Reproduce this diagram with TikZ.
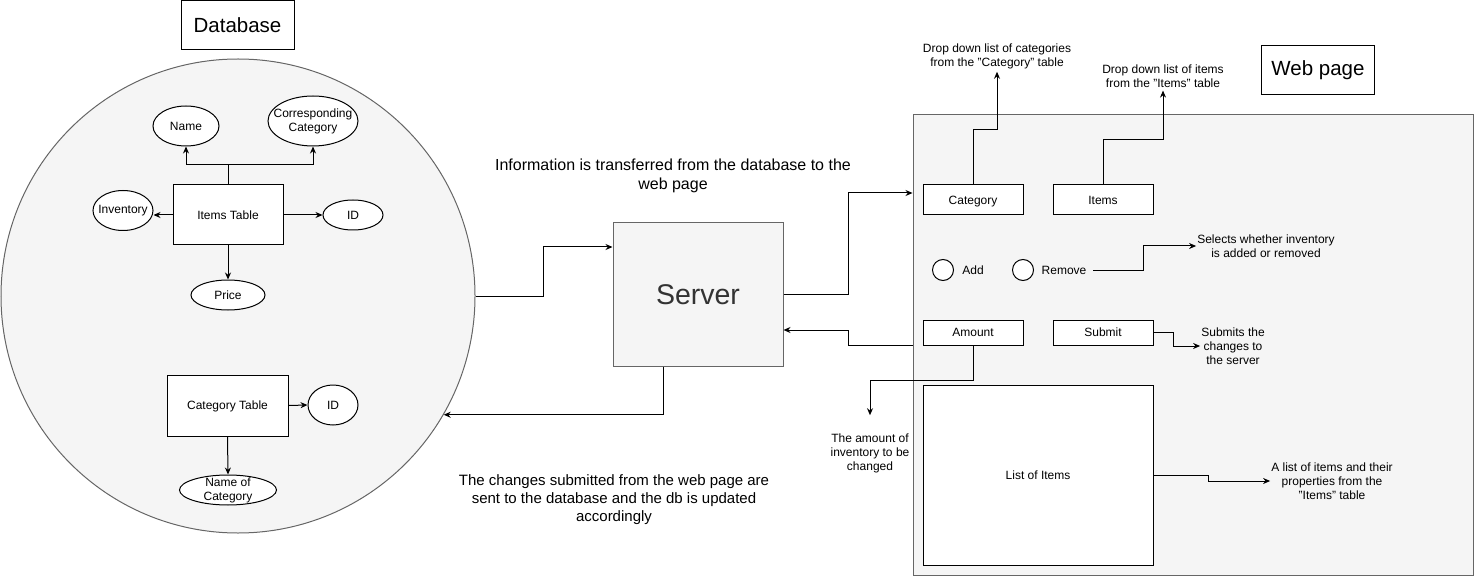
\documentclass[tikz,border=0pt]{standalone}
\usepackage{fontspec}
\setmainfont{Liberation Sans}
\usepackage{tikz}
\usetikzlibrary{arrows.meta}
\usetikzlibrary{shapes.geometric}
\usepackage{xcolor}
\definecolor{ColFill}{HTML}{F5F5F5}
\definecolor{ColLine}{HTML}{666666}
\definecolor{ColText}{HTML}{333333}
\tikzstyle{TextSmall}=[font=\fontsize{12}{14}\selectfont,align=center]
\tikzstyle{NodeGroup}=[draw=ColLine,fill=ColFill,line width=1pt,inner sep=0pt]
\tikzstyle{NodeTitle}=[rectangle,draw=black,line width=1pt,minimum width=113pt,minimum height=49pt,
font=\fontsize{20.5}{24}\selectfont]
\tikzstyle{NodeTable}=[rectangle,draw=black,fill=white,line width=1pt,inner sep=0pt,
text height=9pt,text depth=0.5pt,font=\fontsize{12}{14}\selectfont]
\tikzstyle{NodeAttr}=[ellipse,draw=black,fill=white,line width=1pt,inner sep=0pt]
\tikzstyle{NodeRadio}=[circle,draw=black,fill=white,line width=1pt,minimum size=21pt,inner sep=0pt]
\tikzstyle{NodeNote}=[TextSmall,inner sep=1pt]
\tikzstyle{EdgeFlow}=[line width=1pt,-{Stealth[length=7pt,width=6pt]}]

\begin{document}
\begin{tikzpicture}[x=1pt,y=-1pt]
        \useasboundingbox (0,0) rectangle (1474,577);
        % database side
        \node[NodeTitle](dbtitle)at(237.5,25.5){Database};
        \node[NodeGroup,circle,minimum size=474pt](db)at(238,296){};
        \node[NodeTable,minimum width=110pt,minimum height=60pt](items)at(228,215){Items Table};
        \node[NodeAttr,minimum width=66pt,minimum height=40pt,label={[TextSmall]center:Name}](name)at(186,126){};
        \node[NodeAttr,minimum width=90pt,minimum height=50pt,label={[TextSmall]center:Corresponding\\Category}](cc)at(313,121){};
        \node[NodeAttr,minimum width=60pt,minimum height=40pt,label={[TextSmall]center:Inventory}](inv)at(123,210.5){};
        \node[NodeAttr,minimum width=60pt,minimum height=30pt,label={[TextSmall]center:ID}](itemid)at(353,215){};
        \node[NodeAttr,minimum width=74pt,minimum height=30pt,label={[TextSmall]center:Price}](price)at(228,295){};
        \node[NodeTable,minimum width=121pt,minimum height=61pt](cattab)at(227.5,405.5){Category Table};
        \node[NodeAttr,minimum width=50pt,minimum height=40pt,label={[TextSmall]center:ID}](catid)at(333,405){};
        \node[NodeAttr,minimum width=97pt,minimum height=30pt,label={[TextSmall]center:Name of\\Category}](catname)at(228,490){};
        \draw[EdgeFlow](items.north)--++(0,-20)-|(name.south);
        \draw[EdgeFlow](items.north)--++(0,-20)-|(cc.south);
        \draw[EdgeFlow](items.west)--(items.west-|inv.east);
        \draw[EdgeFlow](items.east)--(itemid.west);
        \draw[EdgeFlow](items.south)--(price.north);
        \draw[EdgeFlow](cattab.east)--(catid.west);
        \draw[EdgeFlow](cattab.south)--(catname.north);
        % server
        \node[NodeGroup,rectangle,minimum width=170pt,minimum height=143pt,text=ColText,
        font=\fontsize{28.5}{32}\selectfont](server)at(698,294.5){Server};
        \node[TextSmall,font=\fontsize{16}{19}\selectfont](info)at(673,176){Information is transferred from the database to the\\web page};
        \node[TextSmall,font=\fontsize{15}{18}\selectfont](changes)at(614,500){The changes submitted from the web page are\\sent to the database and the db is updated\\accordingly};
        % web page
        \node[NodeTitle](webtitle)at(1318,70.5){Web page};
        \node[NodeGroup,rectangle,minimum width=560pt,minimum height=460pt](web)at(1193,345){};
        \node[NodeTable,minimum width=100pt,minimum height=30pt](cat)at(973,200){Category};
        \node[NodeTable,minimum width=100pt,minimum height=30pt](itm)at(1103,200){Items};
        \node[NodeRadio](add)at(943,270){};
        \node[TextSmall,text height=9pt,text depth=0.5pt](addtxt)at(973,270){Add};
        \node[NodeRadio](rem)at(1023,270){};
        \node[TextSmall,text height=9pt,text depth=0.5pt,minimum width=58pt](remtxt)at(1064,270){Remove};
        \node[NodeTable,minimum width=100pt,minimum height=25pt](amt)at(973,332.5){Amount};
        \node[NodeTable,minimum width=100pt,minimum height=25pt](sub)at(1103,332.5){Submit};
        \node[NodeTable,minimum width=230pt,minimum height=180pt](list)at(1038,475){List of Items};
        \node[NodeNote,inner sep=3pt](ddcat)at(997,56){Drop down list of categories\\from the "Category" table};
        \node[NodeNote,inner sep=3pt](dditm)at(1163,76){Drop down list of items\\from the "Items" table};
        \node[NodeNote](sel)at(1266,246){Selects whether inventory\\is added or removed};
        \node[NodeNote](subtxt)at(1233,346){Submits the\\changes to\\the server};
        \node[NodeNote](amttxt)at(870,453){The amount of\\inventory to be\\changed};
        \node[NodeNote](listtxt)at(1332,481){A list of items and their\\properties from the\\"Items" table};
        \draw[EdgeFlow](cat.north)--++(0,-55)-|(ddcat.south);
        \draw[EdgeFlow](itm.north)--++(0,-45)-|(dditm.south);
        \draw[EdgeFlow](remtxt.east)--++(50,0)|-(sel.west);
        \draw[EdgeFlow](sub.east)--++(20,0)|-(subtxt.west);
        \draw[EdgeFlow](amt.south)--++(0,35)-|([yshift=17pt]amttxt.north);
        \draw[EdgeFlow](list.east)--++(55,0)|-(listtxt.west);
        % flows between the parts
        \draw[EdgeFlow](db.east)--++(68,0)|-([yshift=47.5pt]server.west);
        \draw[EdgeFlow](server.east)--++(65,0)|-([yshift=152pt]web.west);
        \draw[EdgeFlow](web.west)--++(-64,0)|-([yshift=-35.5pt]server.east);
        \draw[EdgeFlow]([xshift=-35pt]server.south)|-(db.-30);
    \end{tikzpicture}
\end{document}
